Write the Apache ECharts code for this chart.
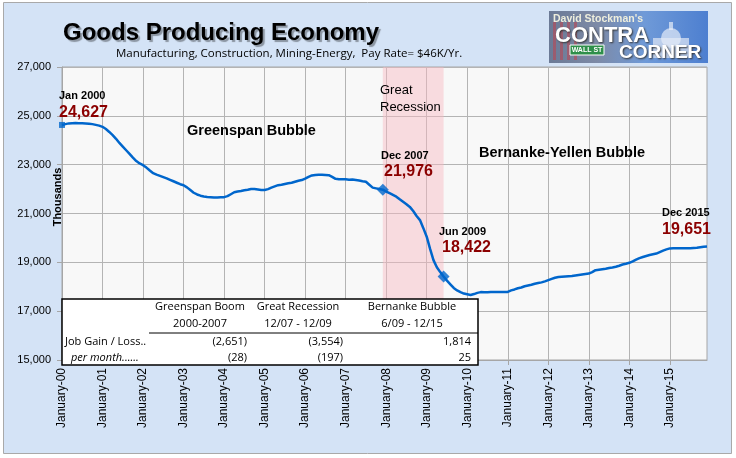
<!DOCTYPE html>
<html>
<head>
<meta charset="utf-8">
<script src="https://cdn.jsdelivr.net/npm/echarts@6/dist/echarts.min.js"></script>
<style>
html,body{margin:0;padding:0;background:#fff;}
#chart{width:736px;height:458px;}
</style>
</head>
<body>
<div id="chart"></div>
<script>
// ---- data (thousands of jobs, monthly, seasonally adjusted) ----
var jobs2000 = [24627,24660,24690,24700,24705,24700,24695,24690,24680,24660,24630,24600];
var jobs2001 = [24550,24460,24340,24210,24060,23890,23740,23590,23440,23290,23150,23050];
var jobs2002 = [22980,22880,22760,22650,22590,22540,22490,22440,22380,22320,22260,22200];
var jobs2003 = [22160,22070,21960,21850,21780,21730,21700,21680,21670,21660,21660,21670];
var jobs2004 = [21670,21710,21790,21870,21900,21920,21950,21970,22000,22000,21980,21960];
var jobs2005 = [21960,22000,22060,22110,22160,22180,22210,22240,22260,22300,22340,22370];
var jobs2006 = [22430,22500,22560,22580,22590,22590,22580,22570,22500,22420,22400,22400];
var jobs2007 = [22400,22380,22390,22370,22350,22320,22300,22180,22060,22030,22000,21976];
var jobs2008 = [21900,21830,21760,21690,21580,21480,21380,21270,21100,20900,20730,20400];
var jobs2009 = [20050,19550,19090,18800,18600,18422,18250,18100,17950,17850,17780,17720];
var jobs2010 = [17690,17660,17700,17750,17780,17770,17770,17780,17780,17790,17790,17790];
var jobs2011 = [17790,17850,17890,17940,17970,18020,18050,18080,18120,18150,18180,18220];
var jobs2012 = [18270,18320,18370,18400,18410,18420,18430,18440,18460,18480,18500,18520];
var jobs2013 = [18540,18600,18680,18700,18720,18740,18770,18790,18820,18860,18910,18940];
var jobs2014 = [18980,19040,19110,19170,19220,19260,19300,19330,19360,19420,19480,19530];
var jobs2015 = [19570,19580,19580,19580,19580,19580,19580,19590,19600,19620,19640,19651];

var years = [2000,2001,2002,2003,2004,2005,2006,2007,2008,2009,2010,2011,2012,2013,2014,2015];
var monthNums = ['01','02','03','04','05','06','07','08','09','10','11','12'];
var yTicks = [15000,17000,19000,21000,23000,25000,27000];

var recessionStart = '2007-12';
var recessionEnd = '2009-06';
var markerMonths = ['2007-12','2009-06'];
var startMonth = '2000-01';

var tableHeads = ['Greenspan Boom','Great Recession','Bernanke Bubble'];
var tablePeriods = ['2000-2007','12/07 - 12/09','6/09 - 12/15'];
var tableRowLabels = ['Job Gain / Loss..','per month......'];
var jobGain = ['(2,651)','(3,554)','1,814'];
var perMonth = ['(28)','(197)','25'];

var callDates = ['Jan 2000','Dec 2007','Jun 2009','Dec 2015'];
var callValues = ['24,627','21,976','18,422','19,651'];

// ---- build ----
var categories = [];
years.forEach(function(y){ monthNums.forEach(function(m){ categories.push(y + '-' + m); }); });
var values = [].concat(jobs2000,jobs2001,jobs2002,jobs2003,jobs2004,jobs2005,jobs2006,jobs2007,
  jobs2008,jobs2009,jobs2010,jobs2011,jobs2012,jobs2013,jobs2014,jobs2015);
function valAt(c){ return values[categories.indexOf(c)]; }

var SANS = '"Liberation Sans", Arial, sans-serif';
var CAL = '"Open Sans", "Noto Sans", sans-serif';
var RED = '#8b0000';

function txt(x, y, s, font, fill, align, extra){
  var o = {type:'text', x:x, y:y, z:10, style:{text:s, font:font, fill:fill||'#000', textAlign:align||'left', textVerticalAlign:'middle'}};
  if (extra) for (var k in extra) o.style[k] = extra[k];
  return o;
}

var graphics = [];
// outer panel
graphics.push({type:'rect', z:-10, shape:{x:3.5,y:2.5,width:728,height:451}, style:{fill:'#d4e3f6', stroke:'#a9a9a9', lineWidth:1}});
// title & subtitle
graphics.push(txt(63, 33, 'Goods Producing Economy', 'bold 24px ' + SANS, '#000', 'left',
  {textShadowColor:'rgba(0,0,0,0.35)', textShadowOffsetX:2, textShadowOffsetY:2, textShadowBlur:1}));
graphics.push(txt(116, 54, 'Manufacturing, Construction, Mining-Energy,  Pay Rate= $46K/Yr.', '11.5px ' + CAL, '#000', 'left'));

// logo
graphics.push({type:'rect', z:5, shape:{x:549,y:11,width:159,height:52},
  style:{fill:{type:'linear',x:0,y:0,x2:1,y2:0,colorStops:[
    {offset:0,color:'#6b7a96'},{offset:0.3,color:'#7d8aa6'},{offset:0.6,color:'#6f9ad8'},{offset:1,color:'#4d7fd0'}]}}});
[0,1,2,3].forEach(function(i){
  graphics.push({type:'rect', z:6, shape:{x:553+i*7,y:22,width:3,height:38}, style:{fill:'rgba(200,60,70,0.5)'}});
});
graphics.push({type:'rect', z:6, shape:{x:653,y:38,width:36,height:20}, style:{fill:'rgba(225,232,245,0.7)'}});
graphics.push({type:'circle', z:6, shape:{cx:671,cy:38,r:10}, style:{fill:'rgba(230,236,248,0.7)'}});
graphics.push({type:'rect', z:6, shape:{x:669,y:22,width:4,height:8}, style:{fill:'rgba(230,236,248,0.7)'}});
graphics.push({type:'rect', z:7, shape:{x:570,y:45,width:34,height:10}, style:{fill:'#2f8f4a', stroke:'#fff', lineWidth:1}});
graphics.push(txt(587, 50.5, 'WALL ST', 'bold 7px ' + SANS, '#fff', 'center'));
graphics.push(txt(553, 19, "David Stockman's", 'bold 10.5px ' + SANS, '#eeeedd', 'left',
  {textShadowColor:'#222', textShadowOffsetX:1, textShadowOffsetY:1}));
graphics.push(txt(555, 36, 'CONTRA', 'bold 22px ' + SANS, '#fff', 'left',
  {textShadowColor:'#333', textShadowOffsetX:1, textShadowOffsetY:1, textShadowBlur:2}));
graphics.push(txt(619, 52.5, 'CORNER', 'bold 19px ' + SANS, '#fff', 'left',
  {textShadowColor:'#333', textShadowOffsetX:1, textShadowOffsetY:1, textShadowBlur:2}));

// annotations
graphics.push(txt(59, 96, callDates[0], 'bold 11px ' + SANS));
graphics.push(txt(59, 113, callValues[0], 'bold 16px ' + SANS, RED));
graphics.push(txt(187, 131, 'Greenspan Bubble', 'bold 14.5px ' + SANS));
graphics.push(txt(380, 90, 'Great', '13px ' + SANS));
graphics.push(txt(380, 107, 'Recession', '13px ' + SANS));
graphics.push(txt(381, 156, callDates[1], 'bold 11px ' + SANS));
graphics.push(txt(384, 172, callValues[1], 'bold 16px ' + SANS, RED));
graphics.push(txt(479, 153, 'Bernanke-Yellen Bubble', 'bold 14.5px ' + SANS));
graphics.push(txt(439, 232, callDates[2], 'bold 11px ' + SANS));
graphics.push(txt(442, 248, callValues[2], 'bold 16px ' + SANS, RED));
graphics.push(txt(662, 213, callDates[3], 'bold 11px ' + SANS));
graphics.push(txt(662, 230, callValues[3], 'bold 16px ' + SANS, RED));
var yname = txt(58, 197, 'Thousands', 'bold 11px ' + SANS, '#000', 'center');
yname.rotation = Math.PI / 2;
graphics.push(yname);

// table
graphics.push({type:'rect', z:20, shape:{x:62,y:299,width:416,height:66}, style:{fill:'#fff', stroke:'#000', lineWidth:1.5}});
graphics.push({type:'line', z:21, shape:{x1:149,y1:333,x2:478,y2:333}, style:{stroke:'#000', lineWidth:1}});
var colCenters = [200,298,412];
var colRights = [247,343,471];
function ttxt(x,y,s,align,italic){ var t = txt(x,y,s,(italic?'italic ':'') + '11px ' + CAL,'#000',align); t.z = 22; return t; }
tableHeads.forEach(function(h,i){ graphics.push(ttxt(colCenters[i],307,h,'center')); });
tablePeriods.forEach(function(h,i){ graphics.push(ttxt(colCenters[i],324,h,'center')); });
graphics.push(ttxt(65,342,tableRowLabels[0],'left'));
graphics.push(ttxt(71,358,tableRowLabels[1],'left',true));
jobGain.forEach(function(v,i){ graphics.push(ttxt(colRights[i],342,v,'right')); });
perMonth.forEach(function(v,i){ graphics.push(ttxt(colRights[i],358,v,'right')); });

var chart = echarts.init(document.getElementById('chart'), null, {renderer:'canvas'});
chart.setOption({
  backgroundColor:'#ffffff',
  animation:false,
  grid:{left:62, right:29, top:67, bottom:98, show:true, backgroundColor:'#f8f8f8', borderColor:'#a6a6a6', borderWidth:1, z:0},
  xAxis:{
    type:'category', data:categories, boundaryGap:false,
    axisLine:{lineStyle:{color:'#a6a6a6'}},
    axisTick:{show:true, interval:11, length:5, lineStyle:{color:'#a6a6a6'}},
    axisLabel:{interval:11, rotate:90, margin:8, color:'#000', fontSize:12, fontFamily:SANS,
      formatter:function(v){ return 'January-' + v.slice(2,4); }},
    splitLine:{show:true, interval:11, lineStyle:{color:'#b4b4b4', width:1}}
  },
  yAxis:{
    type:'value', min:yTicks[0], max:yTicks[yTicks.length-1], interval:2000,
    axisLine:{show:true, lineStyle:{color:'#a6a6a6'}},
    axisTick:{show:true, length:5, lineStyle:{color:'#a6a6a6'}},
    axisLabel:{color:'#000', fontSize:11, fontFamily:SANS, margin:11,
      formatter:function(v){ return v.toLocaleString('en-US'); }},
    splitLine:{show:true, lineStyle:{color:'#b4b4b4', width:1}}
  },
  series:[
    {type:'line', data:values, showSymbol:false, symbol:'none', z:3,
      lineStyle:{color:'#0066cc', width:2.5},
      markArea:{silent:true, itemStyle:{color:'rgba(248,185,192,0.45)'},
        data:[[{xAxis:recessionStart},{xAxis:recessionEnd}]]}},
    {type:'scatter', z:4, symbol:'diamond', symbolSize:12, itemStyle:{color:'#0066cc'},
      data:markerMonths.map(function(c){ return [c, valAt(c)]; })},
    {type:'scatter', z:4, symbol:'rect', symbolSize:6, itemStyle:{color:'#0066cc'},
      data:[[startMonth, valAt(startMonth)]]}
  ],
  graphic:graphics
});
</script>
</body>
</html>
